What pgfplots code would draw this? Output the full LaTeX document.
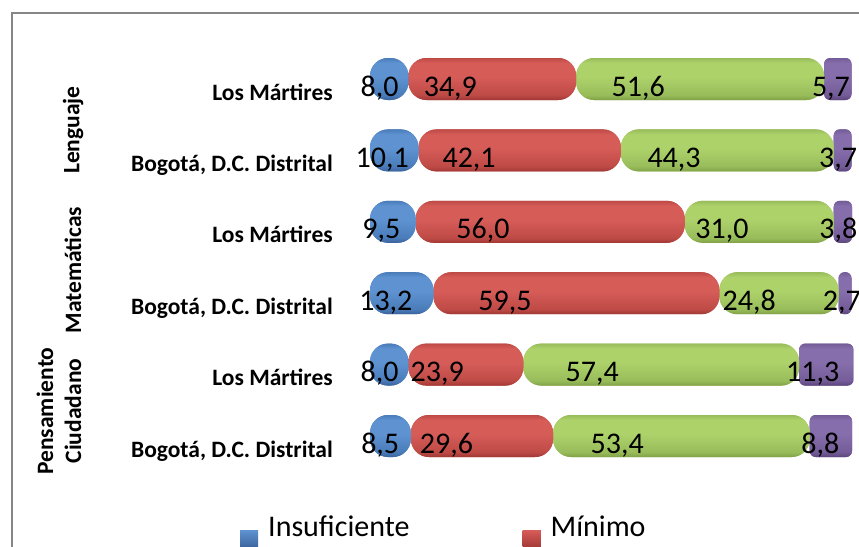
\documentclass[border=0pt]{standalone}
\usepackage{pgfplots}
\pgfplotsset{compat=1.18}
\usepackage{pgfplotstable}
\usepackage{fontspec}
\setmainfont{Carlito}
\pgfplotstableread{
y ins min sat ava
0 8.5 29.6 53.4 8.8
1 8.0 23.9 57.4 11.3
2 13.2 59.5 24.8 2.7
3 9.5 56.0 31.0 3.8
4 10.1 42.1 44.3 3.7
5 8.0 34.9 51.6 5.7
}\data
\definecolor{bD}{RGB}{58,98,155}\definecolor{bN}{RGB}{74,124,186}\definecolor{bL}{RGB}{94,146,208}
\definecolor{rD}{RGB}{160,55,52}\definecolor{rN}{RGB}{190,74,70}\definecolor{rL}{RGB}{214,92,88}
\definecolor{gD}{RGB}{128,160,70}\definecolor{gN}{RGB}{152,188,90}\definecolor{gL}{RGB}{174,210,106}
\definecolor{pD}{RGB}{92,70,124}\definecolor{pN}{RGB}{116,92,152}\definecolor{pL}{RGB}{134,110,172}
\newcommand\mkshade[4]{\pgfdeclareverticalshading{#1}{100bp}{%
color(0bp)=(#2); color(25bp)=(#2); color(25.632bp)=(#3); color(27.895bp)=(#4); color(29.631bp)=(#4); color(30.263bp)=(#3);
color(33.947bp)=(#2); color(34.579bp)=(#3); color(36.842bp)=(#4); color(38.578bp)=(#4); color(39.210bp)=(#3);
color(42.894bp)=(#2); color(43.526bp)=(#3); color(45.789bp)=(#4); color(47.525bp)=(#4); color(48.157bp)=(#3);
color(51.841bp)=(#2); color(52.473bp)=(#3); color(54.736bp)=(#4); color(56.472bp)=(#4); color(57.104bp)=(#3);
color(60.788bp)=(#2); color(61.420bp)=(#3); color(63.683bp)=(#4); color(65.419bp)=(#4); color(66.051bp)=(#3);
color(69.735bp)=(#2); color(70.367bp)=(#3); color(72.630bp)=(#4); color(74.366bp)=(#4); color(75bp)=(#3); color(100bp)=(#3)}}
\mkshade{shB}{bD}{bN}{bL}
\mkshade{shR}{rD}{rN}{rL}
\mkshade{shG}{gD}{gN}{gL}
\mkshade{shP}{pD}{pN}{pL}
\newcommand\lblfont{\fontsize{23.5}{28}\selectfont\bfseries}
\newcommand\valfont{\fontsize{30}{32}\selectfont}
\newcommand\legfont{\fontsize{30}{32}\selectfont}
\begin{document}
\begin{tikzpicture}[x=1pt,y=1pt]
\useasboundingbox (0,0) rectangle (859,546);
\clip (0,0) rectangle (859,546);
\fill[white] (0,0) rectangle (859,546);
\draw[color={rgb,255:red,134;green,134;blue,134}, line width=1.6pt] (12,-20) -- (12,533) -- (900,533);
\begin{axis}[
  at={(370pt,74.3pt)}, anchor=south west,
  scale only axis, width=482pt, height=428.4pt,
  xbar stacked, bar width=42pt,
  xmin=0, xmax=100.3, ymin=-0.5, ymax=5.5,
  axis line style={draw=none},
  xtick=\empty,
  ytick={0,1,2,3,4,5},
  yticklabels={{Bogotá, D.C. Distrital},{Los Mártires},{Bogotá, D.C. Distrital},{Los Mártires},{Bogotá, D.C. Distrital},{Los Mártires}},
  major tick length=0pt,
  yticklabel style={font=\lblfont, anchor=base east, inner sep=0pt, xshift=-37pt, yshift=-21pt},
  clip=false,
  nodes near coords={\pgfmathprintnumber[fixed,fixed zerofill,precision=1,use comma,assume math mode=true]{\pgfplotspointmeta}},
  every node near coord/.append style={anchor=base, inner sep=0pt, xshift={-\val*1.2015pt}, yshift=-17pt, font=\valfont, text=black},
  legend columns=2,
  legend cell align=left,
  legend style={draw=none, fill=none, inner sep=0pt, at={(axis description cs:-0.2697,-0.1034)}, anchor=north west, font=\legfont,
    nodes={inner sep=0pt}, row sep=30pt,
    /tikz/every odd column/.append style={column sep=10pt},
    /tikz/every even column/.append style={column sep=104pt}},
]
\addplot[draw=none, fill=bN, shading=shB, rounded corners=18pt,
  legend image code/.code={\fill[sharp corners, top color=bL, bottom color=bD] (0pt,-21pt) rectangle (18pt,-3pt);},
  visualization depends on={\thisrow{ins}\as\val}, point meta=\thisrow{ins}] table[x=ins,y=y]{\data};
\addplot[draw=none, fill=rN, shading=shR, rounded corners=18pt,
  legend image code/.code={\fill[sharp corners, top color=rL, bottom color=rD] (0pt,-21pt) rectangle (18pt,-3pt);},
  visualization depends on={\thisrow{min}\as\val}, point meta=\thisrow{min}] table[x=min,y=y]{\data};
\addplot[draw=none, fill=gN, shading=shG, rounded corners=18pt,
  legend image code/.code={\fill[sharp corners, top color=gL, bottom color=gD] (0pt,-21pt) rectangle (18pt,-3pt);},
  visualization depends on={\thisrow{sat}\as\val}, point meta=\thisrow{sat}] table[x=sat,y=y]{\data};
\addplot[draw=none, fill=pN, shading=shP, rounded corners=6pt,
  legend image code/.code={\fill[sharp corners, top color=pL, bottom color=pD] (0pt,-21pt) rectangle (18pt,-3pt);},
  visualization depends on={\thisrow{ava}\as\val}, point meta=\thisrow{ava}] table[x=ava,y=y]{\data};
\legend{Insuficiente, Mínimo, Satisfactorio, Avanzado}
\end{axis}
\node[rotate=90, font=\lblfont] at (73,416) {Lenguaje};
\node[rotate=90, font=\lblfont] at (73,276) {Matemáticas};
\node[rotate=90, font=\lblfont, align=center] at (59,135) {Pensamiento\\Ciudadano};
\end{tikzpicture}
\end{document}
